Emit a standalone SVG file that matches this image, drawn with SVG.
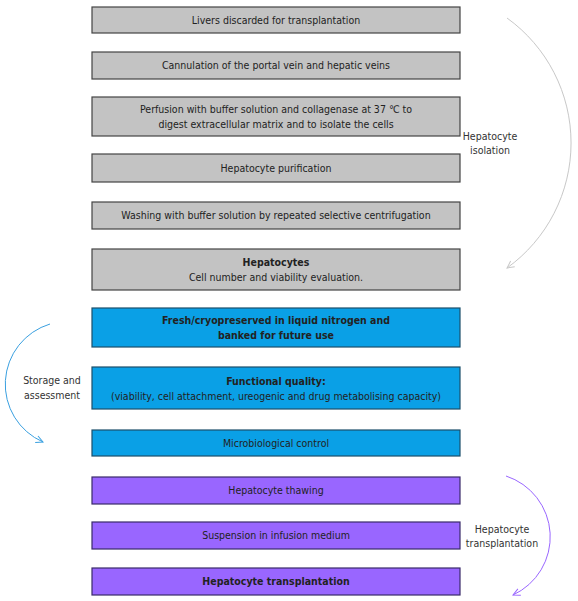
<svg xmlns="http://www.w3.org/2000/svg" width="578" height="601" viewBox="0 0 578 601">
<style>
.g{fill:#c3c3c3;stroke:#444;stroke-width:1.2}
.b{fill:#0aa0e6;stroke:#1b4f6b;stroke-width:1.2}
.p{fill:#9966ff;stroke:#3a2a6a;stroke-width:1.2}
text{font-family:"DejaVu Sans Condensed","Liberation Sans",sans-serif;font-size:10.5px;fill:#222;text-anchor:middle}
.bd{font-weight:bold}
.lab{fill:#333}
</style>
<defs>
<marker id="ag" markerWidth="10" markerHeight="10" refX="8" refY="5" orient="auto" markerUnits="userSpaceOnUse"><path d="M1,1.5 L8,5 L1,8.5" fill="none" stroke="#c8c8c8" stroke-width="1"/></marker>
<marker id="ab" markerWidth="10" markerHeight="10" refX="8" refY="5" orient="auto" markerUnits="userSpaceOnUse"><path d="M1,1.5 L8,5 L1,8.5" fill="none" stroke="#3aa0e0" stroke-width="1"/></marker>
<marker id="ap" markerWidth="10" markerHeight="10" refX="8" refY="5" orient="auto" markerUnits="userSpaceOnUse"><path d="M1,1.5 L8,5 L1,8.5" fill="none" stroke="#9966ff" stroke-width="1"/></marker>
</defs>
<g id="n1"><rect class="g" x="92" y="7" width="368" height="26"/><text x="276" y="24">Livers discarded for transplantation</text></g>
<g id="n2"><rect class="g" x="92" y="52" width="368" height="27"/><text x="276" y="69">Cannulation of the portal vein and hepatic veins</text></g>
<g id="n3"><rect class="g" x="92" y="97" width="368" height="39"/><text x="276" y="113">Perfusion with buffer solution and collagenase at 37 ℃ to</text><text x="276" y="128">digest extracellular matrix and to isolate the cells</text></g>
<g id="n4"><rect class="g" x="92" y="154" width="368" height="28"/><text x="276" y="172">Hepatocyte purification</text></g>
<g id="n5"><rect class="g" x="92" y="202" width="368" height="27"/><text x="276" y="219">Washing with buffer solution by repeated selective centrifugation</text></g>
<g id="n6"><rect class="g" x="92" y="249" width="368" height="41"/><text class="bd" x="276" y="266">Hepatocytes</text><text x="276" y="281">Cell number and viability evaluation.</text></g>
<g id="n7"><rect class="b" x="92" y="308" width="368" height="39"/><text class="bd" x="276" y="324">Fresh/cryopreserved in liquid nitrogen and</text><text class="bd" x="276" y="339">banked for future use</text></g>
<g id="n8"><rect class="b" x="92" y="367" width="368" height="42"/><text class="bd" x="276" y="385">Functional quality:</text><text x="276" y="400">(viability, cell attachment, ureogenic and drug metabolising capacity)</text></g>
<g id="n9"><rect class="b" x="92" y="430" width="368" height="26"/><text x="276" y="447">Microbiological control</text></g>
<g id="n10"><rect class="p" x="92" y="477" width="368" height="27"/><text x="276" y="494">Hepatocyte thawing</text></g>
<g id="n11"><rect class="p" x="92" y="522" width="368" height="27"/><text x="276" y="539">Suspension in infusion medium</text></g>
<g id="n12"><rect class="p" x="92" y="568" width="368" height="27"/><text class="bd" x="276" y="585">Hepatocyte transplantation</text></g>
<g id="connectors" fill="none" stroke-width="1">
<path d="M507,18 A154,154 0 0 1 507,268" stroke="#c8c8c8" marker-end="url(#ag)"/>
<path d="M50,324 A63,63 0 0 0 43,442" stroke="#3aa0e0" marker-end="url(#ab)"/>
<path d="M506,476 A64,64 0 0 1 513,595" stroke="#9966ff" marker-end="url(#ap)"/>
</g>
<g id="labels">
<text class="lab" x="490" y="140">Hepatocyte</text><text class="lab" x="490" y="154">isolation</text>
<text class="lab" x="52" y="384">Storage and</text><text class="lab" x="52" y="399">assessment</text>
<text class="lab" x="502" y="533">Hepatocyte</text><text class="lab" x="502" y="547">transplantation</text>
</g>
</svg>
